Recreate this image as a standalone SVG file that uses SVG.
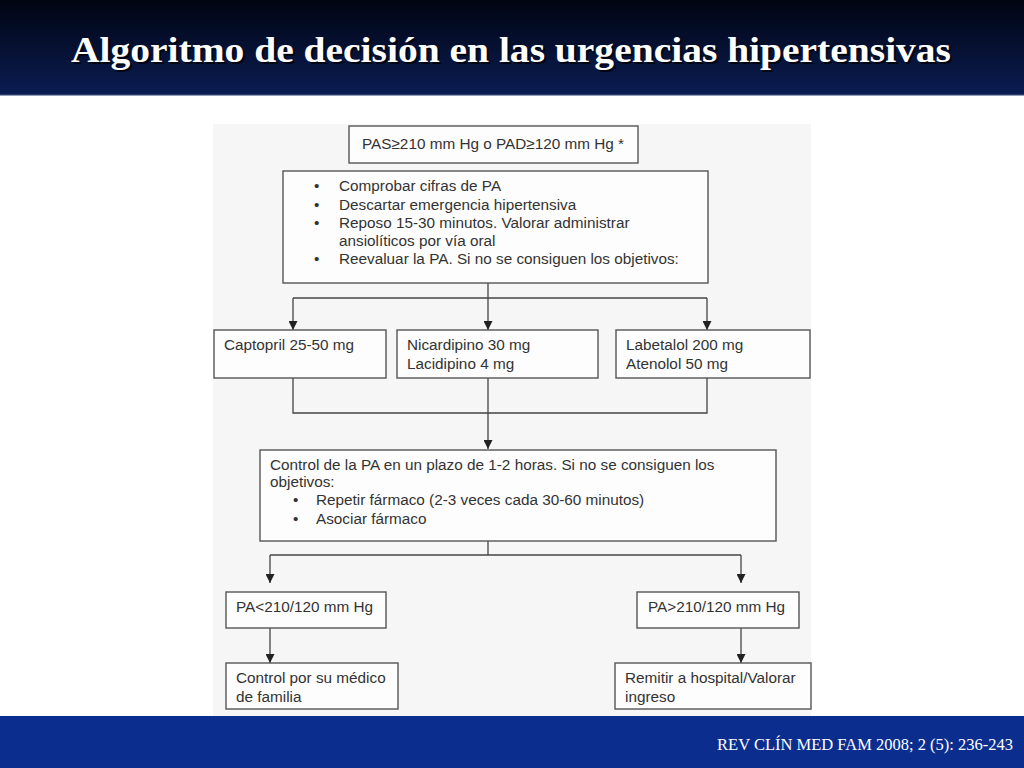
<svg xmlns="http://www.w3.org/2000/svg" width="1024" height="768" viewBox="0 0 1024 768">
<defs>
<linearGradient id="hdr" x1="0" y1="0" x2="0" y2="1">
<stop offset="0" stop-color="#000512"/>
<stop offset="1" stop-color="#0b1c52"/>
</linearGradient>
<marker id="arr" viewBox="0 0 10 10" refX="10" refY="5" markerWidth="9" markerHeight="9" markerUnits="userSpaceOnUse" orient="auto">
<path d="M0,0 L10,5 L0,10 z" fill="#222"/>
</marker>
<style>
.box{fill:#fdfdfd;stroke:#555;stroke-width:1.4}
.t{font-family:"Liberation Sans",Arial,sans-serif;font-size:15.3px;fill:#333}
.c{fill:none;stroke:#444;stroke-width:1.3}
.title{font-family:"Liberation Serif",serif;font-size:35px;font-weight:bold}
</style>
</defs>
<rect x="0" y="0" width="1024" height="768" fill="#ffffff"/>
<rect x="0" y="0" width="1024" height="95" fill="url(#hdr)"/>
<rect x="0" y="94" width="1024" height="1.5" fill="#2a3a70"/>
<text class="title" x="513" y="64" text-anchor="middle" fill="#000" opacity="0.7" textLength="880" lengthAdjust="spacingAndGlyphs">Algoritmo de decisión en las urgencias hipertensivas</text>
<text class="title" x="511" y="62" text-anchor="middle" fill="#ffffff" textLength="880" lengthAdjust="spacingAndGlyphs">Algoritmo de decisión en las urgencias hipertensivas</text>
<rect x="213" y="124" width="598" height="592" fill="#f6f6f6"/>
<rect x="0" y="716" width="1024" height="52" fill="#0b2d8e"/>
<text x="1013" y="750" text-anchor="end" font-family="Liberation Serif,serif" font-size="16.5" fill="#ffffff">REV CLÍN MED FAM 2008; 2 (5): 236-243</text>

<g id="connectors">
<path class="c" d="M488,283 V298"/>
<path class="c" d="M293,298 H707"/>
<path class="c" d="M293,298 V330" marker-end="url(#arr)"/>
<path class="c" d="M488,298 V330" marker-end="url(#arr)"/>
<path class="c" d="M707,298 V330" marker-end="url(#arr)"/>
<path class="c" d="M293,378 V413 H707 V378"/>
<path class="c" d="M488,378 V449" marker-end="url(#arr)"/>
<path class="c" d="M488,541 V555"/>
<path class="c" d="M270,555 H741"/>
<path class="c" d="M270,555 V583" marker-end="url(#arr)"/>
<path class="c" d="M741,555 V583" marker-end="url(#arr)"/>
<path class="c" d="M270,628 V663" marker-end="url(#arr)"/>
<path class="c" d="M741,628 V663" marker-end="url(#arr)"/>
</g>

<g id="n-start">
<rect class="box" x="349" y="126" width="289" height="37"/>
<text class="t" x="362" y="149">PAS≥210 mm Hg o PAD≥120 mm Hg *</text>
</g>
<g id="n-steps">
<rect class="box" x="283" y="171" width="425" height="112"/>
<text class="t" x="314" y="191">•</text><text class="t" x="339" y="191">Comprobar cifras de PA</text>
<text class="t" x="314" y="210">•</text><text class="t" x="339" y="210">Descartar emergencia hipertensiva</text>
<text class="t" x="314" y="228">•</text><text class="t" x="339" y="228">Reposo 15-30 minutos. Valorar administrar</text>
<text class="t" x="339" y="246">ansiolíticos por vía oral</text>
<text class="t" x="314" y="264">•</text><text class="t" x="339" y="264">Reevaluar la PA. Si no se consiguen los objetivos:</text>
</g>
<g id="n-captopril">
<rect class="box" x="214" y="330" width="172" height="48"/>
<text class="t" x="224" y="350">Captopril 25-50 mg</text>
</g>
<g id="n-nicardipino">
<rect class="box" x="397" y="330" width="201" height="48"/>
<text class="t" x="407" y="350">Nicardipino 30 mg</text>
<text class="t" x="407" y="369">Lacidipino 4 mg</text>
</g>
<g id="n-labetalol">
<rect class="box" x="616" y="330" width="194" height="48"/>
<text class="t" x="626" y="350">Labetalol 200 mg</text>
<text class="t" x="626" y="369">Atenolol 50 mg</text>
</g>
<g id="n-control">
<rect class="box" x="260" y="450" width="516" height="91"/>
<text class="t" x="270" y="470">Control de la PA en un plazo de 1-2 horas. Si no se consiguen los</text>
<text class="t" x="270" y="487">objetivos:</text>
<text class="t" x="293" y="505">•</text><text class="t" x="316" y="505">Repetir fármaco (2-3 veces cada 30-60 minutos)</text>
<text class="t" x="293" y="524">•</text><text class="t" x="316" y="524">Asociar fármaco</text>
</g>
<g id="n-pa-low">
<rect class="box" x="226" y="592" width="160" height="36"/>
<text class="t" x="236" y="612">PA&lt;210/120 mm Hg</text>
</g>
<g id="n-pa-high">
<rect class="box" x="637" y="592" width="162" height="36"/>
<text class="t" x="648" y="612">PA&gt;210/120 mm Hg</text>
</g>
<g id="n-medico">
<rect class="box" x="226" y="663" width="172" height="46"/>
<text class="t" x="236" y="683">Control por su médico</text>
<text class="t" x="236" y="702">de familia</text>
</g>
<g id="n-hospital">
<rect class="box" x="615" y="663" width="196" height="46"/>
<text class="t" x="625" y="683">Remitir a hospital/Valorar</text>
<text class="t" x="625" y="702">ingreso</text>
</g>
</svg>
